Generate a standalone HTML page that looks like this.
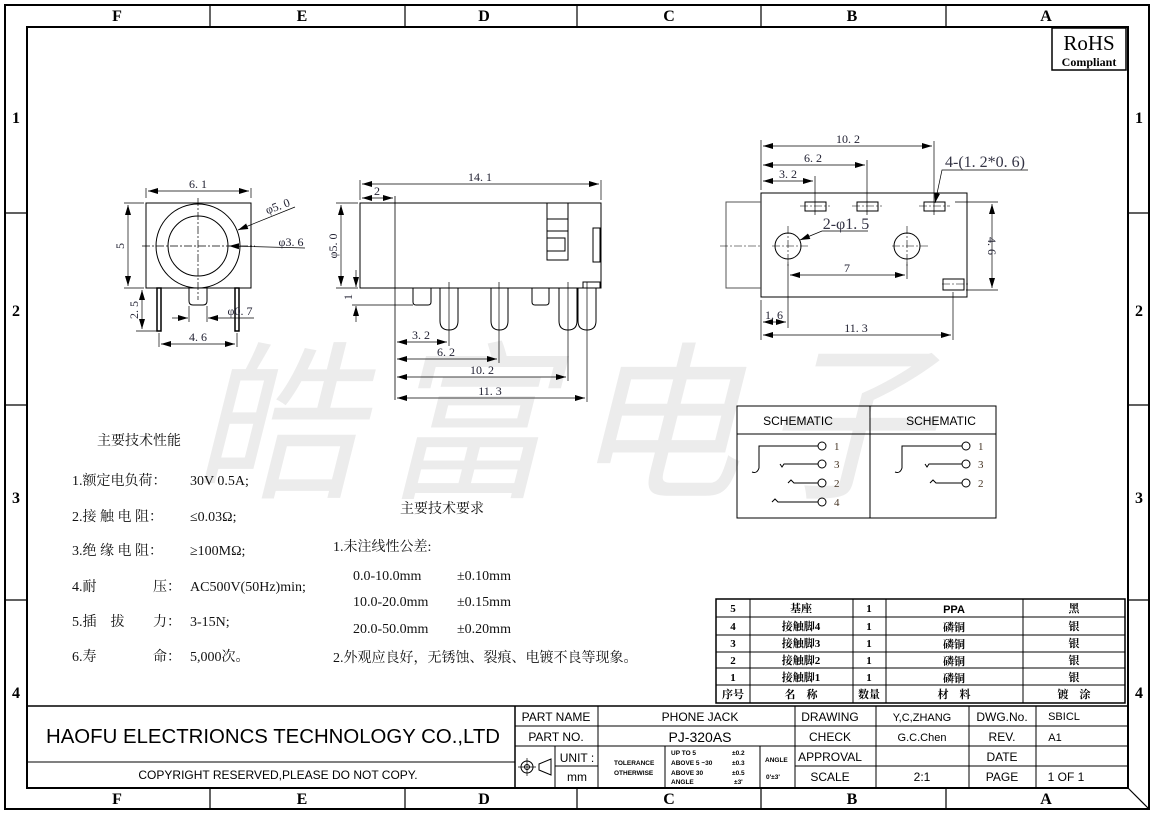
<!DOCTYPE html>
<html><head><meta charset="utf-8"><style>
html,body{margin:0;padding:0;background:#fff}
svg{display:block}
.s{font-family:"Liberation Serif","Noto Serif CJK SC",serif}
.a{font-family:"Liberation Sans","Noto Sans CJK SC",sans-serif}
</style></head><body>
<svg width="1154" height="814" viewBox="0 0 1154 814" xmlns="http://www.w3.org/2000/svg">
<defs>
<marker id="ar" viewBox="0 0 10 6" refX="10" refY="3" markerWidth="10" markerHeight="6" orient="auto-start-reverse" markerUnits="userSpaceOnUse"><path d="M0,0L10,3L0,6z" fill="#000"/></marker>
</defs>
<rect width="1154" height="814" fill="#fff"/>
<text x="190" y="485" class="a" font-size="170" fill="#ececec" font-style="italic" letter-spacing="20">皓富电子</text>

<g stroke="#000" fill="none">
<rect x="5" y="5" width="1144" height="804" stroke-width="2"/>
<rect x="27" y="27" width="1101" height="761" stroke-width="2"/>
<g stroke-width="1.2">
<line x1="210" y1="5" x2="210" y2="27"/><line x1="405" y1="5" x2="405" y2="27"/><line x1="577" y1="5" x2="577" y2="27"/><line x1="761" y1="5" x2="761" y2="27"/><line x1="946" y1="5" x2="946" y2="27"/>
<line x1="210" y1="788" x2="210" y2="809"/><line x1="405" y1="788" x2="405" y2="809"/><line x1="577" y1="788" x2="577" y2="809"/><line x1="761" y1="788" x2="761" y2="809"/><line x1="946" y1="788" x2="946" y2="809"/>
<line x1="5" y1="213" x2="27" y2="213"/><line x1="5" y1="405" x2="27" y2="405"/><line x1="5" y1="600" x2="27" y2="600"/>
<line x1="1128" y1="213" x2="1149" y2="213"/><line x1="1128" y1="405" x2="1149" y2="405"/><line x1="1128" y1="600" x2="1149" y2="600"/>
<line x1="1128" y1="788" x2="1149" y2="809"/>
</g></g>
<g class="s" font-size="16" font-weight="bold" text-anchor="middle">
<text x="117" y="21">F</text><text x="302" y="21">E</text><text x="484" y="21">D</text><text x="669" y="21">C</text><text x="852" y="21">B</text><text x="1046" y="21">A</text>
<text x="117" y="804">F</text><text x="302" y="804">E</text><text x="484" y="804">D</text><text x="669" y="804">C</text><text x="852" y="804">B</text><text x="1046" y="804">A</text>
<text x="16" y="123">1</text><text x="16" y="316">2</text><text x="16" y="503">3</text><text x="16" y="698">4</text>
<text x="1139" y="123">1</text><text x="1139" y="316">2</text><text x="1139" y="503">3</text><text x="1139" y="698">4</text>
</g>

<rect x="1052" y="28" width="74" height="42" fill="none" stroke="#000" stroke-width="1.5"/>
<text x="1089" y="50" class="s" font-size="21" text-anchor="middle">RoHS</text>
<text x="1089" y="66" class="s" font-size="12" font-weight="bold" text-anchor="middle">Compliant</text>

<!-- FRONT VIEW -->
<g stroke="#000" fill="none" stroke-width="1">
<rect x="146" y="203" width="105" height="85"/>
<circle cx="198" cy="246" r="42"/><circle cx="198" cy="246" r="30"/>
<line x1="198" y1="198" x2="198" y2="300" stroke-dasharray="8,2,2,2" stroke-width=".7"/>
<line x1="142" y1="246" x2="255" y2="246" stroke-dasharray="8,2,2,2" stroke-width=".7"/>
<rect x="157" y="288" width="4" height="43" stroke-width="1.5"/>
<rect x="235" y="288" width="4" height="43" stroke-width="1.5"/>
<path d="M189,288V301Q189,305 193,305H203Q207,305 207,301V288"/>
<g stroke-width=".7">
<line x1="146" y1="198" x2="146" y2="188"/><line x1="251" y1="198" x2="251" y2="188"/>
<line x1="148" y1="191" x2="249" y2="191" marker-start="url(#ar)" marker-end="url(#ar)"/>
<line x1="124" y1="203" x2="144" y2="203"/><line x1="124" y1="288" x2="144" y2="288"/>
<line x1="128" y1="205" x2="128" y2="286" marker-start="url(#ar)" marker-end="url(#ar)"/>
<line x1="136" y1="331" x2="157" y2="331"/>
<line x1="142" y1="290" x2="142" y2="329" marker-start="url(#ar)" marker-end="url(#ar)"/>
<line x1="159" y1="333" x2="159" y2="347"/><line x1="237" y1="333" x2="237" y2="347"/>
<line x1="161" y1="344" x2="235" y2="344" marker-start="url(#ar)" marker-end="url(#ar)"/>
<line x1="189" y1="306" x2="189" y2="322"/><line x1="207" y1="306" x2="207" y2="322"/>
<line x1="172" y1="318" x2="188" y2="318" marker-end="url(#ar)"/>
<line x1="254" y1="318" x2="208" y2="318" marker-end="url(#ar)"/>
<line x1="295" y1="207" x2="238" y2="230" marker-end="url(#ar)"/>
<line x1="305" y1="248" x2="229" y2="246" marker-end="url(#ar)"/>
</g></g>
<g class="s" font-size="12" fill="#223" text-anchor="middle">
<text x="198" y="188">6. 1</text>
<text x="198" y="341">4. 6</text>
<text transform="translate(124,246) rotate(-90)">5</text>
<text transform="translate(138,310) rotate(-90)">2. 5</text>
<text x="279" y="210" transform="rotate(-20 279 210)">φ5. 0</text>
<text x="291" y="246">φ3. 6</text>
<text x="240" y="315">φ0. 7</text>
</g>

<!-- SIDE VIEW -->
<g stroke="#000" fill="none" stroke-width="1">
<rect x="360" y="203" width="241" height="85"/>
<line x1="395" y1="196" x2="395" y2="400" stroke-width=".8"/>
<rect x="547" y="203" width="21" height="57"/>
<line x1="547" y1="219" x2="568" y2="219"/><line x1="547" y1="231" x2="568" y2="231"/>
<rect x="547" y="238" width="18" height="13"/>
<rect x="593" y="228" width="7" height="34"/>
<rect x="583" y="282" width="17" height="6"/>
<path d="M413,288V302Q413,305 416,305H428Q431,305 431,302V288"/>
<path d="M532,288V302Q532,305 535,305H546Q549,305 549,302V288"/>
<path d="M440,288V321Q440,330 449,330Q458,330 458,321V288"/>
<path d="M491,288V321Q491,330 499.5,330Q508,330 508,321V288"/>
<path d="M559,288V321Q559,330 568,330Q577,330 577,321V288"/>
<path d="M578,288V321Q578,330 587,330Q596,330 596,321V288"/>
<g stroke-width=".7">
<line x1="360" y1="200" x2="360" y2="180"/><line x1="601" y1="200" x2="601" y2="180"/>
<line x1="362" y1="184" x2="599" y2="184" marker-start="url(#ar)" marker-end="url(#ar)"/>
<line x1="362" y1="198" x2="393" y2="198" marker-start="url(#ar)" marker-end="url(#ar)"/>
<line x1="336" y1="203" x2="358" y2="203"/><line x1="336" y1="288" x2="358" y2="288"/>
<line x1="341" y1="205" x2="341" y2="286" marker-start="url(#ar)" marker-end="url(#ar)"/>
<line x1="352" y1="305" x2="413" y2="305"/>
<line x1="356" y1="270" x2="356" y2="287" marker-end="url(#ar)"/>
<line x1="356" y1="322" x2="356" y2="306" marker-end="url(#ar)"/>
<line x1="449" y1="282" x2="449" y2="346"/><line x1="499" y1="282" x2="499" y2="363"/>
<line x1="568" y1="282" x2="568" y2="381"/><line x1="587" y1="282" x2="587" y2="402"/>
<line x1="397" y1="342" x2="447" y2="342" marker-start="url(#ar)" marker-end="url(#ar)"/>
<line x1="397" y1="359" x2="497" y2="359" marker-start="url(#ar)" marker-end="url(#ar)"/>
<line x1="397" y1="377" x2="566" y2="377" marker-start="url(#ar)" marker-end="url(#ar)"/>
<line x1="397" y1="398" x2="585" y2="398" marker-start="url(#ar)" marker-end="url(#ar)"/>
</g></g>
<g class="s" font-size="12" fill="#223" text-anchor="middle">
<text x="480" y="181">14. 1</text>
<text x="377" y="195">2</text>
<text transform="translate(337,246) rotate(-90)">φ5. 0</text>
<text transform="translate(352,297) rotate(-90)">1</text>
<text x="421" y="339">3. 2</text>
<text x="446" y="356">6. 2</text>
<text x="482" y="374">10. 2</text>
<text x="490" y="395">11. 3</text>
</g>

<!-- BOTTOM VIEW -->
<g stroke="#000" fill="none" stroke-width="1">
<rect x="761" y="193" width="206" height="104"/>
<polyline points="761,202 726,202 726,288 761,288" stroke="#555"/>
<rect x="805" y="202" width="21" height="9"/><rect x="857" y="202" width="21" height="9"/><rect x="924" y="202" width="21" height="9"/>
<rect x="943" y="279" width="21" height="11"/>
<circle cx="788" cy="246" r="13"/><circle cx="907" cy="246" r="13"/>
<g stroke-width=".6" stroke-dasharray="8,2,2,2">
<line x1="720" y1="246" x2="760" y2="246"/><line x1="772" y1="246" x2="808" y2="246"/><line x1="892" y1="246" x2="928" y2="246"/>
<line x1="788" y1="226" x2="788" y2="266"/><line x1="907" y1="226" x2="907" y2="266"/>
<line x1="800" y1="206" x2="830" y2="206"/><line x1="852" y1="206" x2="882" y2="206"/><line x1="919" y1="206" x2="950" y2="206"/>
<line x1="942" y1="284" x2="968" y2="284"/>
</g>
<g stroke-width=".7">
<line x1="761" y1="190" x2="761" y2="140"/><line x1="761" y1="300" x2="761" y2="340"/>
<line x1="815" y1="176" x2="815" y2="215"/><line x1="867" y1="160" x2="867" y2="215"/><line x1="934" y1="141" x2="934" y2="215"/>
<line x1="763" y1="146" x2="932" y2="146" marker-start="url(#ar)" marker-end="url(#ar)"/>
<line x1="763" y1="165" x2="865" y2="165" marker-start="url(#ar)" marker-end="url(#ar)"/>
<line x1="763" y1="181" x2="813" y2="181" marker-start="url(#ar)" marker-end="url(#ar)"/>
<line x1="955" y1="202" x2="998" y2="202"/><line x1="966" y1="290" x2="998" y2="290"/>
<line x1="992" y1="204" x2="992" y2="288" marker-start="url(#ar)" marker-end="url(#ar)"/>
<line x1="788" y1="262" x2="788" y2="328"/><line x1="907" y1="262" x2="907" y2="279"/><line x1="953" y1="292" x2="953" y2="340"/>
<line x1="790" y1="275" x2="905" y2="275" marker-start="url(#ar)" marker-end="url(#ar)"/>
<line x1="763" y1="322" x2="786" y2="322" marker-start="url(#ar)" marker-end="url(#ar)"/>
<line x1="763" y1="335" x2="951" y2="335" marker-start="url(#ar)" marker-end="url(#ar)"/>
<polyline points="1028,170 942,170 935,203" marker-end="url(#ar)"/>
<polyline points="868,231 822,231 800,240" marker-end="url(#ar)"/>
</g></g>
<g class="s" fill="#223" text-anchor="middle">
<g font-size="12">
<text x="848" y="143">10. 2</text><text x="813" y="162">6. 2</text><text x="788" y="178">3. 2</text>
<text transform="translate(988,246) rotate(90)">4. 6</text>
<text x="847" y="272">7</text><text x="774" y="319">1. 6</text><text x="856" y="332">11. 3</text>
</g>
<g font-size="16" fill="#334"><text x="985" y="167">4-(1. 2*0. 6)</text><text x="846" y="229">2-φ1. 5</text></g>
</g>

<!-- SCHEMATIC -->
<g stroke="#000" fill="none" stroke-width="1">
<rect x="737" y="406" width="259" height="112"/>
<line x1="870" y1="406" x2="870" y2="518"/>
<line x1="737" y1="434" x2="996" y2="434"/>
<path d="M752,472 Q757,474 759,468 V446 H818"/><circle cx="822" cy="446" r="4"/>
<path d="M780,464 l2,3 l2,-3 H818"/><circle cx="822" cy="464" r="4"/>
<path d="M788,483 l3,-3 l3,3 H818"/><circle cx="822" cy="483" r="4"/>
<path d="M772,502 l3,-3 l3,3 H818"/><circle cx="822" cy="502" r="4"/>
<path d="M895,472 Q900,474 902,468 V446 H962"/><circle cx="966" cy="446" r="4"/>
<path d="M925,464 l2,3 l2,-3 H962"/><circle cx="966" cy="464" r="4"/>
<path d="M930,483 l3,-3 l3,3 H962"/><circle cx="966" cy="483" r="4"/>
</g>
<g class="a" font-size="12" text-anchor="middle"><text x="798" y="425">SCHEMATIC</text><text x="941" y="425">SCHEMATIC</text></g>
<g class="s" font-size="11" fill="#432"><text x="834" y="450">1</text><text x="834" y="468">3</text><text x="834" y="487">2</text><text x="834" y="506">4</text>
<text x="978" y="450">1</text><text x="978" y="468">3</text><text x="978" y="487">2</text></g>

<!-- BOM -->
<g stroke="#000" fill="none">
<rect x="716" y="599" width="409" height="104" stroke-width="1.5"/>
<g stroke-width="1"><line x1="716" y1="617" x2="1125" y2="617"/><line x1="716" y1="635" x2="1125" y2="635"/><line x1="716" y1="652" x2="1125" y2="652"/><line x1="716" y1="668" x2="1125" y2="668"/><line x1="716" y1="685" x2="1125" y2="685"/>
<line x1="750" y1="599" x2="750" y2="703"/><line x1="853" y1="599" x2="853" y2="703"/><line x1="886" y1="599" x2="886" y2="703"/><line x1="1023" y1="599" x2="1023" y2="703"/></g>
</g>
<g class="s" font-size="11" text-anchor="middle" font-weight="bold">
<text x="733" y="612">5</text><text x="801" y="612">基座</text><text x="869" y="612">1</text><text x="954" y="613" class="a">PPA</text><text x="1074" y="612">黑</text>
<text x="733" y="630">4</text><text x="801" y="630">接触脚4</text><text x="869" y="630">1</text><text x="954" y="631">磷铜</text><text x="1074" y="630">银</text>
<text x="733" y="647">3</text><text x="801" y="647">接触脚3</text><text x="869" y="647">1</text><text x="954" y="648">磷铜</text><text x="1074" y="647">银</text>
<text x="733" y="664">2</text><text x="801" y="664">接触脚2</text><text x="869" y="664">1</text><text x="954" y="665">磷铜</text><text x="1074" y="664">银</text>
<text x="733" y="681">1</text><text x="801" y="681">接触脚1</text><text x="869" y="681">1</text><text x="954" y="682">磷铜</text><text x="1074" y="681">银</text>
<text x="733" y="698">序号</text><text x="801" y="698">名　称</text><text x="869" y="698">数量</text><text x="954" y="698">材　料</text><text x="1074" y="698">镀　涂</text>
</g>

<!-- TITLE BLOCK -->
<g stroke="#000" fill="none" stroke-width="1">
<line x1="27" y1="706" x2="1128" y2="706" stroke-width="1.5"/>
<line x1="27" y1="762" x2="515" y2="762"/>
<line x1="515" y1="706" x2="515" y2="788" stroke-width="1.5"/>
<line x1="515" y1="726" x2="1128" y2="726"/><line x1="515" y1="746" x2="1128" y2="746"/>
<line x1="795" y1="766" x2="1128" y2="766"/><line x1="555" y1="766" x2="598" y2="766"/>
<line x1="598" y1="706" x2="598" y2="788"/><line x1="795" y1="706" x2="795" y2="788"/>
<line x1="876" y1="706" x2="876" y2="788"/><line x1="969" y1="706" x2="969" y2="788"/><line x1="1036" y1="706" x2="1036" y2="788"/>
<line x1="555" y1="746" x2="555" y2="788"/><line x1="665" y1="746" x2="665" y2="788"/><line x1="760" y1="746" x2="760" y2="788"/>
<circle cx="527" cy="767" r="6"/><circle cx="527" cy="767" r="2.5"/>
<line x1="518" y1="767" x2="536" y2="767" stroke-width=".7"/><line x1="527" y1="758" x2="527" y2="776" stroke-width=".7"/>
<path d="M539,764 L551,759 V775 L539,770 Z"/>
</g>
<text x="46" y="743" class="a" font-size="20" textLength="454" lengthAdjust="spacingAndGlyphs">HAOFU ELECTRIONCS TECHNOLOGY CO.,LTD</text>
<text x="278" y="779" class="a" font-size="12" text-anchor="middle">COPYRIGHT RESERVED,PLEASE DO NOT COPY.</text>
<g class="a" font-size="12" text-anchor="middle">
<text x="556" y="721">PART NAME</text><text x="556" y="741">PART NO.</text>
<text x="700" y="721">PHONE JACK</text><text x="700" y="742" font-size="14">PJ-320AS</text>
<text x="830" y="721">DRAWING</text><text x="830" y="741">CHECK</text><text x="830" y="761">APPROVAL</text><text x="830" y="781">SCALE</text>
<text x="922" y="721" font-size="11">Y,C,ZHANG</text><text x="922" y="741" font-size="11">G.C.Chen</text><text x="922" y="781">2:1</text>
<text x="1002" y="721">DWG.No.</text><text x="1002" y="741">REV.</text><text x="1002" y="761">DATE</text><text x="1002" y="781">PAGE</text>
<text x="1064" y="720" font-size="11">SBICL</text><text x="1055" y="741" font-size="11">A1</text><text x="1066" y="781">1 OF 1</text>
<text x="577" y="762">UNIT :</text><text x="577" y="781">mm</text>
</g>
<g class="a" font-size="6.5" font-weight="bold">
<text x="614" y="765">TOLERANCE</text><text x="614" y="775">OTHERWISE</text>
<text x="671" y="755">UP TO 5</text><text x="671" y="765">ABOVE 5 ~30</text><text x="671" y="775">ABOVE 30</text><text x="671" y="784">ANGLE</text>
<text x="732" y="755">±0.2</text><text x="732" y="765">±0.3</text><text x="732" y="775">±0.5</text><text x="734" y="784">±3'</text>
<text x="765" y="762">ANGLE</text><text x="766" y="779">0'±3'</text>
</g>

<g class="s" font-size="14" fill="#111">
<text x="97" y="445">主要技术性能</text>
<text x="72" y="485">1.额定电负荷：</text><text x="190" y="485">30V 0.5A;</text>
<text x="72" y="521">2.接 触 电 阻：</text><text x="190" y="521">≤0.03Ω;</text>
<text x="72" y="555">3.绝 缘 电 阻：</text><text x="190" y="555">≥100MΩ;</text>
<text x="72" y="591">4.耐</text><text x="153" y="591">压：</text><text x="190" y="591">AC500V(50Hz)min;</text>
<text x="72" y="626">5.插　拔　</text><text x="153" y="626">力：</text><text x="190" y="626">3-15N;</text>
<text x="72" y="661">6.寿</text><text x="153" y="661">命：</text><text x="190" y="661">5,000次。</text>
<text x="400" y="513">主要技术要求</text>
<text x="333" y="551">1.未注线性公差:</text>
<text x="353" y="580">0.0-10.0mm</text><text x="457" y="580">±0.10mm</text>
<text x="353" y="606">10.0-20.0mm</text><text x="457" y="606">±0.15mm</text>
<text x="353" y="633">20.0-50.0mm</text><text x="457" y="633">±0.20mm</text>
<text x="333" y="662">2.外观应良好，无锈蚀、裂痕、电镀不良等现象。</text>
</g>
</svg>
</body></html>
